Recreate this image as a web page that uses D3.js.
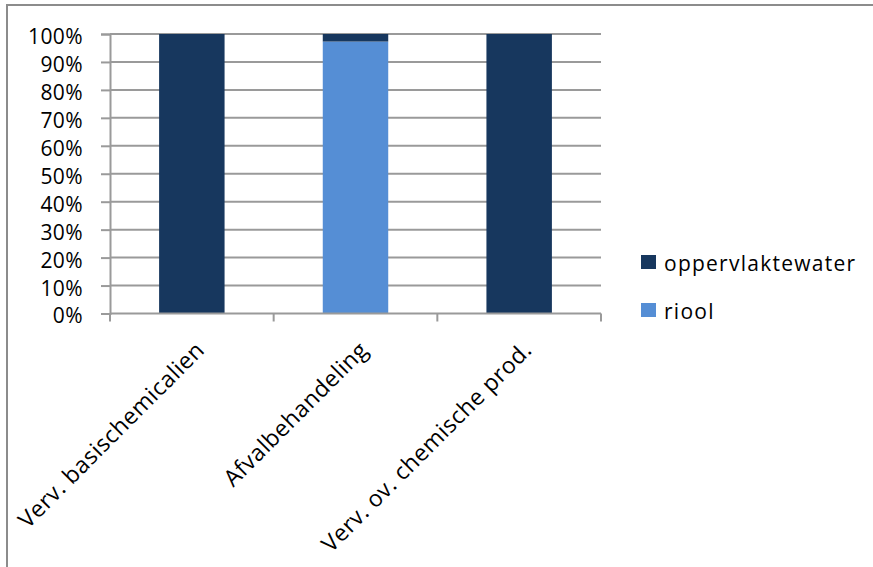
<!DOCTYPE html>
<html>
<head>
<meta charset="utf-8">
<script src="https://cdn.jsdelivr.net/npm/d3@7"></script>
<style>
  html, body { margin: 0; padding: 0; background: #fff; }
  svg { display: block; }
  text { font-family: "Open Sans", "Noto Sans", sans-serif; fill: #000; }
</style>
</head>
<body>
<svg id="chart" width="873" height="567"></svg>
<script>
// Share of discharge per sector, split by receiving water (percent)
const categories = ["Verv. basischemicalien", "Afvalbehandeling", "Verv. ov. chemische prod."];
const riool = [0, 97.3, 0];
const oppervlaktewater = [100, 2.7, 100];
const seriesNames = ["riool", "oppervlaktewater"];
const seriesColors = { "oppervlaktewater": "#17375E", "riool": "#558ED5" };
const yTicks = [0, 10, 20, 30, 40, 50, 60, 70, 80, 90, 100];
const legendOrder = ["oppervlaktewater", "riool"];

const rows = categories.map((c, i) => ({ cat: c, riool: riool[i], oppervlaktewater: oppervlaktewater[i] }));

const svg = d3.select("#chart");
const plot = { left: 110, right: 601, top: 34, bottom: 313.5 };

// outer frame (top and left edges visible)
svg.append("path")
  .attr("d", "M7,567 V5 H873")
  .attr("fill", "none")
  .attr("stroke", "#8c8c8c")
  .attr("stroke-width", 2);

const x = d3.scaleBand().domain(categories).range([plot.left, plot.right]).paddingInner(0.6).paddingOuter(0.3);
const y = d3.scaleLinear().domain([0, 100]).range([plot.bottom, plot.top]);

// horizontal gridlines
svg.append("g").selectAll("line").data(yTicks.filter(t => t > 0)).join("line")
  .attr("x1", plot.left).attr("x2", plot.right)
  .attr("y1", d => y(d)).attr("y2", d => y(d))
  .attr("stroke", "#9a9a9a").attr("stroke-width", 2);

// y axis
const yAxis = d3.axisLeft(y).tickValues(yTicks).tickFormat(d => d + "%").tickSize(9).tickPadding(18);
const gy = svg.append("g").attr("transform", `translate(${plot.left},0)`).call(yAxis);
gy.select(".domain").attr("stroke", "#9a9a9a").attr("stroke-width", 2);
gy.selectAll(".tick line").attr("stroke", "#9a9a9a").attr("stroke-width", 2);
gy.selectAll(".tick text")
  .attr("font-family", "Open Sans").attr("font-size", 21).attr("letter-spacing", 0.4)
  .attr("dy", "0.45em");

// stacked bars
const stack = d3.stack().keys(seriesNames)(rows);
svg.append("g").selectAll("g").data(stack).join("g")
  .attr("fill", s => seriesColors[s.key])
  .selectAll("rect").data(s => s).join("rect")
  .attr("x", d => x(d.data.cat))
  .attr("width", x.bandwidth())
  .attr("y", d => y(d[1]))
  .attr("height", d => y(d[0]) - y(d[1]));

// x axis line and category ticks
const xTickPos = d3.range(categories.length + 1).map(i => plot.left + i * (plot.right - plot.left) / categories.length);
svg.append("line")
  .attr("x1", plot.left).attr("x2", plot.right)
  .attr("y1", y(0)).attr("y2", y(0))
  .attr("stroke", "#9a9a9a").attr("stroke-width", 2);
svg.append("g").selectAll("line").data(xTickPos).join("line")
  .attr("x1", d => d).attr("x2", d => d)
  .attr("y1", y(0)).attr("y2", y(0) + 8)
  .attr("stroke", "#9a9a9a").attr("stroke-width", 2);

// rotated category labels
svg.append("g").selectAll("text").data(categories).join("text")
  .attr("transform", d => `translate(${x(d) + x.bandwidth() / 2 + 14},${y(0) + 38}) rotate(-45)`)
  .attr("text-anchor", "end")
  .attr("font-size", 23).attr("letter-spacing", 0.45)
  .text(d => d);

// legend
const legend = svg.append("g").selectAll("g").data(legendOrder).join("g")
  .attr("transform", (d, i) => `translate(641,${255 + i * 48})`);
legend.append("rect").attr("width", 15).attr("height", 14).attr("fill", d => seriesColors[d]);
legend.append("text").attr("x", 23).attr("y", 16)
  .attr("font-size", 21).attr("letter-spacing", 1.25)
  .text(d => d);
</script>
</body>
</html>
